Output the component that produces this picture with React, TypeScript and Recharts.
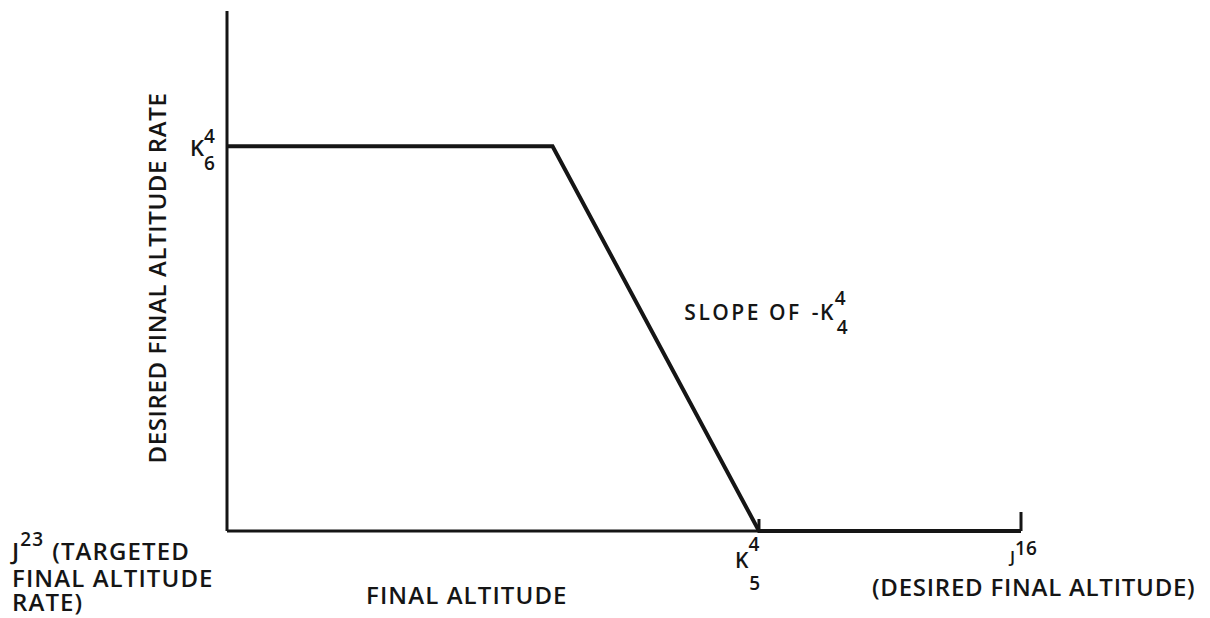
import React from 'react';
import {
  LineChart,
  Line,
  XAxis,
  YAxis,
  ReferenceDot,
  Label,
} from 'recharts';

// final altitude (x) and desired final altitude rate (y), schematic units 0-100
const altitude = [0, 41, 67, 100];
const rate = [74, 74, 0, 0];

const xTicks = [0, 67, 100];
const yTicks = [74];

const data = altitude.map((a, i) => ({ altitude: a, rate: rate[i] }));

const INK = '#151515';
const FONT = '"Open Sans", sans-serif';
const FS = 24;
const SUB = 19;
const LS = 1.1;

const XTick = (props: any) => {
  const { x, y, payload } = props;
  const v = payload.value;
  if (v === 0) {
    return (
      <g fill={INK} fontFamily={FONT} fontSize={FS} fontWeight={600} letterSpacing={LS}>
        <text x={x - 215} y={y + 29}>
          J<tspan fontSize={SUB} dy={-14}>23</tspan>
          <tspan dx={8} dy={14}>(TARGETED</tspan>
        </text>
        <text x={x - 215} y={y + 56}>FINAL ALTITUDE</text>
        <text x={x - 215} y={y + 80}>RATE)</text>
      </g>
    );
  }
  if (v === 67) {
    return (
      <g fill={INK} fontFamily={FONT} fontWeight={600}>
        <line x1={x} x2={x} y1={y} y2={y - 12} stroke={INK} strokeWidth={3} />
        <text x={x - 24} y={y + 37} fontSize={FS - 3}>
          K<tspan fontSize={SUB} dy={-17}>4</tspan>
          <tspan fontSize={SUB} dx={-10} dy={39}>5</tspan>
        </text>
      </g>
    );
  }
  return (
    <g fill={INK} fontFamily={FONT} fontWeight={600}>
      <line x1={x} x2={x} y1={y} y2={y - 19} stroke={INK} strokeWidth={3} />
      <text x={x - 11} y={y + 32} fontSize={SUB - 2}>
        J<tspan fontSize={SUB} dy={-8}>16</tspan>
      </text>
      <text x={x - 149} y={y + 65} fontSize={FS} letterSpacing={0.75}>
        (DESIRED FINAL ALTITUDE)
      </text>
    </g>
  );
};

const YTick = (props: any) => {
  const { x, y } = props;
  return (
    <text x={x - 37} y={y + 10} fill={INK} fontFamily={FONT} fontWeight={600} fontSize={FS - 2}>
      K<tspan fontSize={SUB} dy={-13}>4</tspan>
      <tspan fontSize={SUB} dx={-11} dy={27}>6</tspan>
    </text>
  );
};

const YLabel = (props: any) => {
  const { viewBox } = props;
  const x = viewBox.x + viewBox.width - 61;
  const cy = viewBox.y + viewBox.height / 2 + 7;
  return (
    <text
      x={x}
      y={cy}
      transform={`rotate(-90, ${x}, ${cy})`}
      textAnchor="middle"
      fill={INK}
      fontFamily={FONT}
      fontWeight={600}
      fontSize={FS}
      letterSpacing={0.6}
    >
      DESIRED FINAL ALTITUDE RATE
    </text>
  );
};

const XLabel = (props: any) => {
  const { viewBox } = props;
  return (
    <text
      x={viewBox.x + 139}
      y={viewBox.y + 73}
      fill={INK}
      fontFamily={FONT}
      fontWeight={600}
      fontSize={FS}
      letterSpacing={LS}
    >
      FINAL ALTITUDE
    </text>
  );
};

const SlopeLabel = (props: any) => {
  const { viewBox } = props;
  return (
    <text x={viewBox.x} y={viewBox.y} fill={INK} fontFamily={FONT} fontWeight={600} fontSize={21}>
      <tspan letterSpacing={2.5}>SLOPE OF</tspan>
      <tspan dx={10} letterSpacing={1.5}>-K</tspan>
      <tspan fontSize={SUB} dy={-15}>4</tspan>
      <tspan fontSize={SUB} dx={-9} dy={29}>4</tspan>
    </text>
  );
};

export default function App() {
  return (
    <div style={{ position: 'absolute', left: 0, top: 0, background: '#fff' }}>
      <LineChart
        width={1210}
        height={618}
        data={data}
        margin={{ top: 11, right: 189, left: 167, bottom: 57 }}
      >
        <XAxis
          type="number"
          dataKey="altitude"
          domain={[0, 100]}
          ticks={xTicks}
          tick={<XTick />}
          tickLine={false}
          tickSize={0}
          tickMargin={0}
          height={30}
          axisLine={{ stroke: INK, strokeWidth: 3 }}
          interval={0}
        >
          <Label content={<XLabel />} />
        </XAxis>
        <YAxis
          type="number"
          domain={[0, 100]}
          ticks={yTicks}
          tick={<YTick />}
          tickLine={false}
          tickSize={0}
          tickMargin={0}
          width={60}
          axisLine={{ stroke: INK, strokeWidth: 3 }}
          interval={0}
        >
          <Label content={<YLabel />} />
        </YAxis>
        <Line
          type="linear"
          dataKey="rate"
          stroke={INK}
          strokeWidth={4}
          dot={false}
          isAnimationActive={false}
        />
        <ReferenceDot
          x={57.6}
          y={40.6}
          r={0}
          fill="none"
          stroke="none"
          label={<SlopeLabel />}
        />
      </LineChart>
    </div>
  );
}
